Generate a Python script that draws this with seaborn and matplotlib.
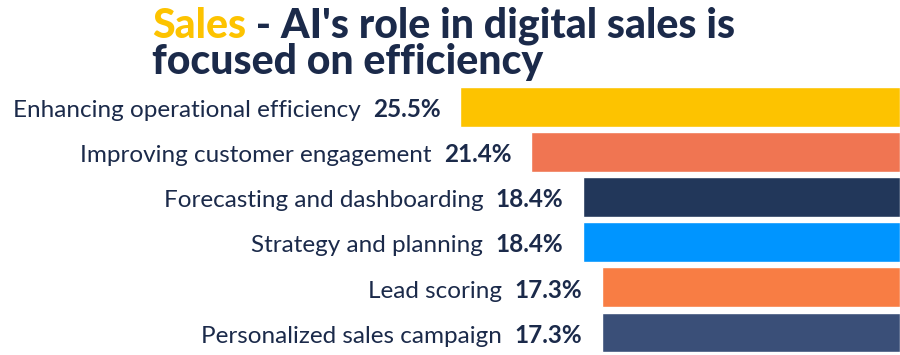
import matplotlib
matplotlib.use("Agg")
import matplotlib.pyplot as plt
import seaborn as sns
import pandas as pd

categories = [
    "Enhancing operational efficiency",
    "Improving customer engagement",
    "Forecasting and dashboarding",
    "Strategy and planning",
    "Lead scoring",
    "Personalized sales campaign",
]
values = [25.5, 21.4, 18.4, 18.4, 17.3, 17.3]
colors = ["#FDC300", "#F07552", "#22375A", "#0095FF", "#F87D44", "#3A4F78"]

TEXT = "#1B2A4A"

sns.set_theme(style="white")
plt.rcParams["font.family"] = ["Lato", "DejaVu Sans"]

df = pd.DataFrame({"category": categories, "value": values})

fig = plt.figure(figsize=(9, 3.55), dpi=100)
ax = fig.add_axes([0, 0, 1, 0.763])

sns.barplot(data=df, x="value", y="category", hue="category",
            palette=colors, orient="h", width=0.88, legend=False,
            saturation=1, ax=ax)

ax.set_xlim(52.2, 0)
ax.set_ylim(5.5, -0.5)
ax.axis("off")

# percentage right next to the bar, category label to the left of it
for i, (cat, val) in enumerate(zip(categories, values)):
    pct = ax.annotate(f"{val:.1f}%", xy=(val, i), xytext=(-14, -2),
                      textcoords="offset points", ha="right", va="center",
                      fontsize=17.5, fontweight="bold", color=TEXT)
    ax.annotate(cat, xy=(0, 0), xycoords=pct, xytext=(-9, 0),
                textcoords="offset points", ha="right", va="bottom",
                fontsize=17.5, color=TEXT)

# title: "Sales" highlighted, rest in navy
t1 = fig.text(152 / 900, 1 - 38 / 355, "Sales", fontsize=29.5,
              fontweight="black", color="#FDC300", va="baseline", ha="left")
ax.annotate(" - AI's role in digital sales is", xy=(1, 0), xycoords=t1,
            va="bottom", ha="left", fontsize=29.5, fontweight="black",
            color=TEXT, annotation_clip=False)
fig.text(152 / 900, 1 - 74 / 355, "focused on efficiency", fontsize=29.5,
         fontweight="black", color=TEXT, va="baseline", ha="left")

fig.savefig("out.png", dpi=100)
